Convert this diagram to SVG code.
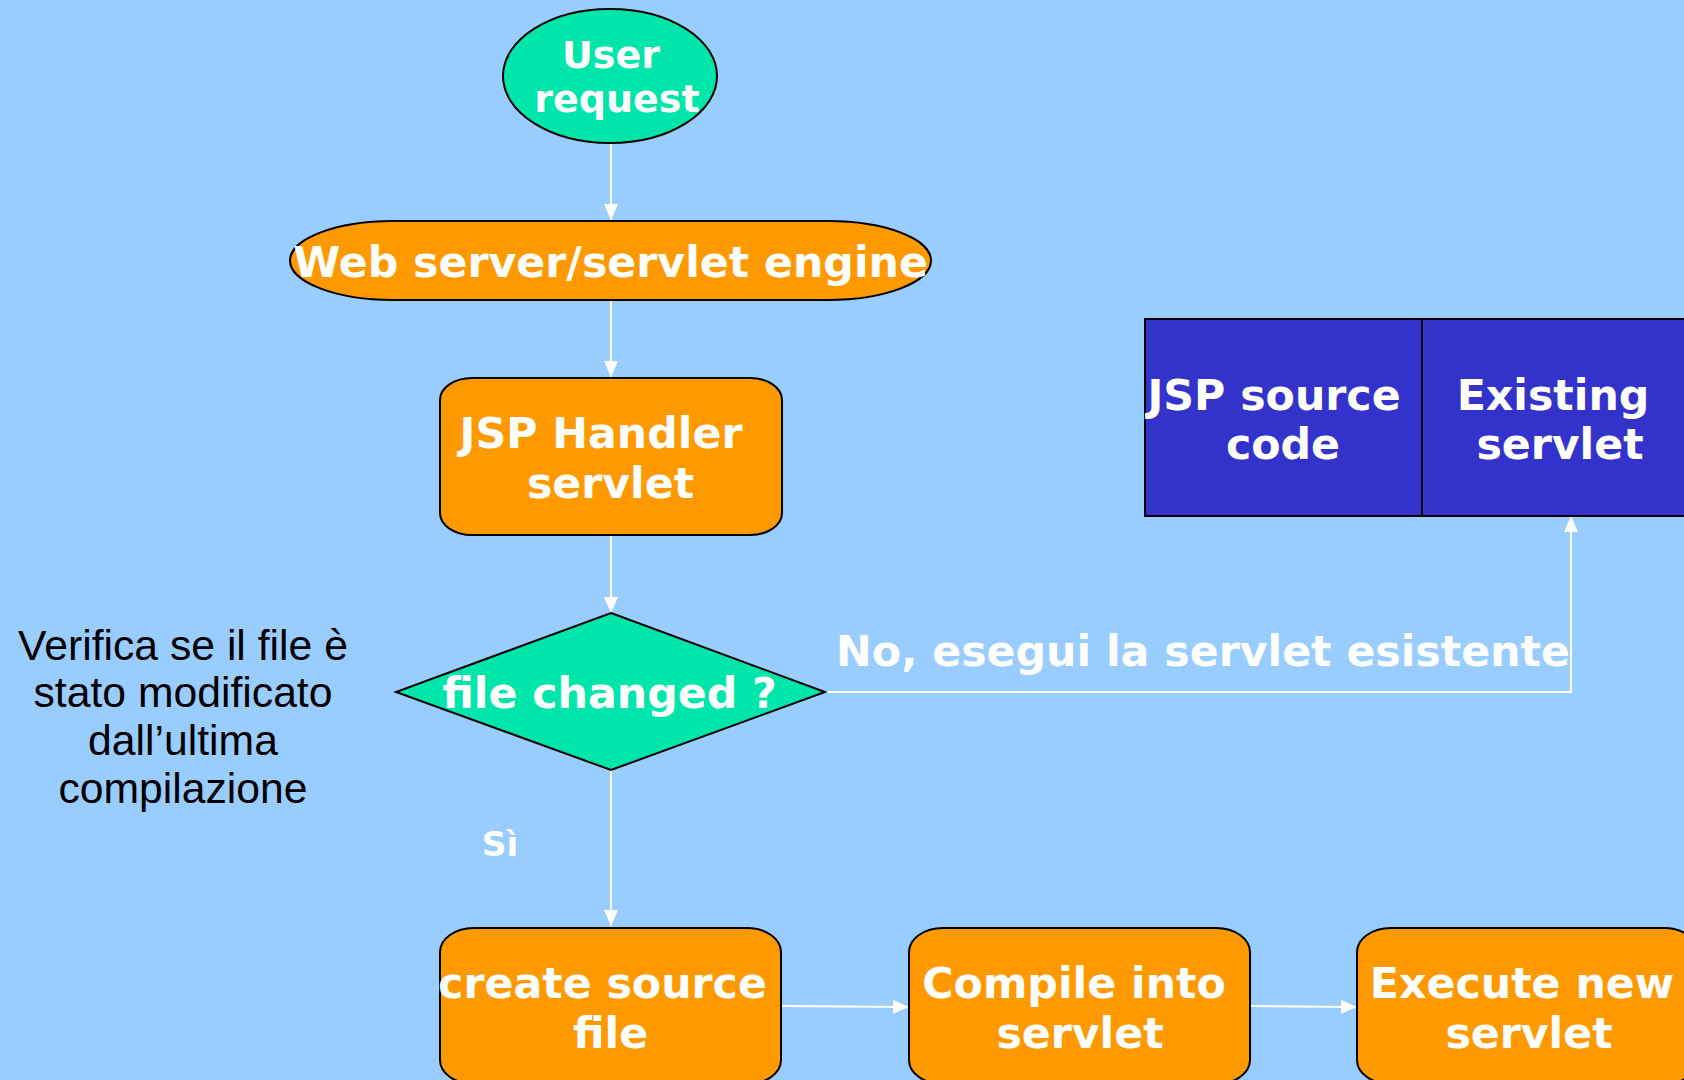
<svg xmlns="http://www.w3.org/2000/svg" width="1684" height="1080" viewBox="0 0 1684 1080">
  <style>
    .lbl { font-family: "DejaVu Sans", "Verdana", sans-serif; font-weight: bold; font-size: 42.7px; fill: #ffffff; text-anchor: middle; }
    .note { font-family: "Liberation Sans", Arial, sans-serif; font-size: 42.7px; fill: #000000; text-anchor: middle; }
    .orange { fill: #FF9900; stroke: #000000; stroke-width: 2; }
    .green { fill: #00E6AA; stroke: #000000; stroke-width: 2; }
    .blue { fill: #3333CC; stroke: #000000; stroke-width: 2; }
    .wire { fill: none; stroke: #ffffff; stroke-width: 2; }
  </style>
  <defs>
    <marker id="arrow" markerUnits="userSpaceOnUse" markerWidth="16" markerHeight="14" refX="16" refY="7" orient="auto">
      <path d="M0,0 L16,7 L0,14 z" fill="#ffffff"/>
    </marker>
  </defs>

  <!-- background -->
  <rect x="0" y="0" width="1684" height="1080" fill="#99CCFF"/>

  <!-- connectors -->
  <g id="connectors">
    <line class="wire" x1="611" y1="143" x2="611" y2="220" marker-end="url(#arrow)"/>
    <line class="wire" x1="611" y1="300" x2="611" y2="377" marker-end="url(#arrow)"/>
    <line class="wire" x1="611" y1="535" x2="611" y2="613" marker-end="url(#arrow)"/>
    <line class="wire" x1="611" y1="770" x2="611" y2="926" marker-end="url(#arrow)"/>
    <polyline class="wire" points="825,692 1571,692 1571,516" marker-end="url(#arrow)"/>
    <line class="wire" x1="782" y1="1006" x2="909" y2="1007" marker-end="url(#arrow)"/>
    <line class="wire" x1="1251" y1="1006" x2="1357" y2="1007" marker-end="url(#arrow)"/>
    <text class="lbl" x="1203" y="666">No, esegui la servlet esistente</text>
    <text class="lbl" x="500" y="856" style="font-size:34.5px">Sì</text>
  </g>

  <!-- start node -->
  <g id="user-request">
    <ellipse class="green" cx="610" cy="76" rx="107" ry="67"/>
    <text class="lbl" x="611" y="68" style="font-size:38px">User</text>
    <text class="lbl" x="617" y="112" style="font-size:38px">request</text>
  </g>

  <g id="web-server">
    <rect class="orange" x="290" y="221" width="641" height="79" rx="103" ry="39.5"/>
    <text class="lbl" x="610.5" y="277">Web server/servlet engine</text>
  </g>

  <g id="jsp-handler">
    <rect class="orange" x="440" y="378" width="342" height="157" rx="32" ry="22"/>
    <text class="lbl" x="601" y="448">JSP Handler</text>
    <text class="lbl" x="610.5" y="498">servlet</text>
  </g>

  <g id="file-changed">
    <polygon class="green" points="611,613 825,692 611,770 396,692"/>
    <text class="lbl" x="609.5" y="708">file changed ?</text>
  </g>

  <g id="note">
    <text class="note" x="183" y="660">Verifica se il file è</text>
    <text class="note" x="183" y="707">stato modificato</text>
    <text class="note" x="183" y="755">dall’ultima</text>
    <text class="note" x="183" y="803">compilazione</text>
  </g>

  <g id="sources">
    <rect class="blue" x="1145" y="319" width="277" height="197"/>
    <rect class="blue" x="1422" y="319" width="278" height="197"/>
    <text class="lbl" x="1274" y="410">JSP source</text>
    <text class="lbl" x="1283" y="459">code</text>
    <text class="lbl" x="1553" y="410">Existing</text>
    <text class="lbl" x="1560" y="459">servlet</text>
  </g>

  <g id="create-source">
    <rect class="orange" x="440" y="928" width="341" height="156" rx="34" ry="24"/>
    <text class="lbl" x="602.5" y="998">create source</text>
    <text class="lbl" x="610.5" y="1048">file</text>
  </g>

  <g id="compile">
    <rect class="orange" x="909" y="928" width="341" height="156" rx="34" ry="24"/>
    <text class="lbl" x="1074" y="998">Compile into</text>
    <text class="lbl" x="1080" y="1048">servlet</text>
  </g>

  <g id="execute">
    <rect class="orange" x="1357" y="928" width="341" height="156" rx="34" ry="24"/>
    <text class="lbl" x="1522" y="998">Execute new</text>
    <text class="lbl" x="1529" y="1048">servlet</text>
  </g>
</svg>
